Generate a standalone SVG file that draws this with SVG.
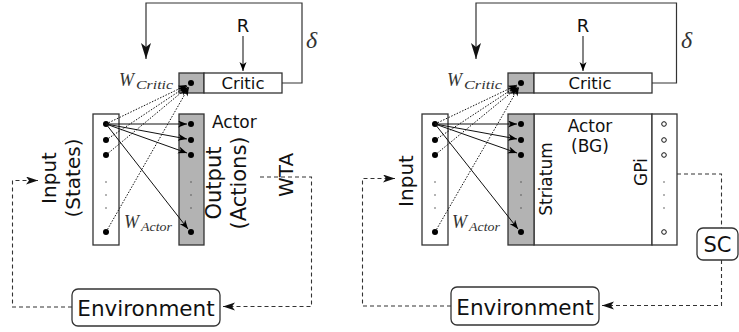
<svg xmlns="http://www.w3.org/2000/svg" width="739" height="332" viewBox="0 0 739 332">
<defs>
<style>
.box{fill:#fff;stroke:#333;stroke-width:1.3}
.gray{fill:#b3b3b3;stroke:#333;stroke-width:1.3}
.ln{fill:none;stroke:#333;stroke-width:1.2}
.sol{fill:none;stroke:#111;stroke-width:1}
.dot{fill:none;stroke:#111;stroke-width:1;stroke-dasharray:1.5,1.5}
.dash{fill:none;stroke:#333;stroke-width:1.1;stroke-dasharray:4,3}
.t{font-family:"DejaVu Sans",sans-serif;fill:#111}
.m{font-family:"Liberation Serif",serif;font-style:italic;fill:#333}
.nd{fill:#000}
.od{fill:#fff;stroke:#111;stroke-width:1}
.ed{fill:#555}
</style>
<marker id="a" markerUnits="userSpaceOnUse" markerWidth="10" markerHeight="8" refX="9" refY="3.5" orient="auto"><path d="M0,0 L9,3.5 L0,7 L2.5,3.5 z" fill="#000"/></marker>
<marker id="b" markerUnits="userSpaceOnUse" markerWidth="18" markerHeight="12" refX="16" refY="5" orient="auto"><path d="M0,0 L16,5 L0,10 L4,5 z" fill="#111"/></marker>
<marker id="c" markerUnits="userSpaceOnUse" markerWidth="14" markerHeight="10" refX="12" refY="4" orient="auto"><path d="M0,0 L12,4 L0,8 L3,4 z" fill="#111"/></marker>
</defs>

<g id="left-critic">
<rect class="gray" x="179" y="73" width="25" height="20"/>
<rect class="box" x="204" y="73" width="78" height="20"/>
<text class="t" x="243" y="88.5" font-size="16.5" text-anchor="middle">Critic</text>
<circle class="nd" cx="191" cy="83" r="3"/>
</g>
<g id="left-input">
<rect class="box" x="93" y="114" width="26" height="131"/>
<circle class="nd" cx="106" cy="124" r="3"/>
<circle class="nd" cx="106" cy="140" r="3"/>
<circle class="nd" cx="106" cy="155" r="3"/>
<circle class="nd" cx="106" cy="232" r="3"/>
<circle class="ed" cx="106" cy="182" r="0.8"/>
<circle class="ed" cx="106" cy="195" r="0.8"/>
<circle class="ed" cx="106" cy="208" r="0.8"/>
<text class="t" font-size="20" text-anchor="middle" transform="translate(56,178) rotate(-90)">Input</text>
<text class="t" font-size="20" text-anchor="middle" transform="translate(80,178) rotate(-90)">(States)</text>
</g>
<g id="left-output">
<rect class="gray" x="179" y="114" width="25" height="131"/>
<circle class="nd" cx="191" cy="124" r="3"/>
<circle class="nd" cx="191" cy="140" r="3"/>
<circle class="nd" cx="191" cy="155" r="3"/>
<circle class="nd" cx="191" cy="232" r="3"/>
<circle class="ed" cx="191" cy="182" r="0.8"/>
<circle class="ed" cx="191" cy="195" r="0.8"/>
<circle class="ed" cx="191" cy="208" r="0.8"/>
<text class="t" x="212" y="128" font-size="17">Actor</text>
<text class="t" font-size="21" text-anchor="middle" transform="translate(221,183) rotate(-90)">Output</text>
<text class="t" font-size="21" text-anchor="middle" transform="translate(246,183) rotate(-90)">(Actions)</text>
</g>
<g id="left-wta">
<text class="t" font-size="20" text-anchor="middle" transform="translate(293,175) rotate(-90)">WTA</text>
</g>
<g id="left-env">
<rect class="box" x="72" y="289" width="148" height="37" rx="6"/>
<text class="t" x="146" y="316" font-size="21.5" text-anchor="middle">Environment</text>
</g>
<g id="left-labels">
<text class="t" x="243" y="32" font-size="18" text-anchor="middle">R</text>
<text class="m" x="306" y="48" font-size="24">δ</text>
<text class="m" x="119" y="86" font-size="18">W</text>
<text class="m" x="136" y="89" font-size="12.5" textLength="37" lengthAdjust="spacingAndGlyphs">Critic</text>
<text class="m" x="124" y="228" font-size="18">W</text>
<text class="m" x="141" y="231" font-size="12.5" textLength="31" lengthAdjust="spacingAndGlyphs">Actor</text>
</g>

<g id="right-critic">
<rect class="gray" x="508" y="73" width="26" height="20"/>
<rect class="box" x="534" y="73" width="118" height="20"/>
<text class="t" x="590" y="88.5" font-size="16.5" text-anchor="middle">Critic</text>
<circle class="nd" cx="521" cy="83" r="3"/>
</g>
<g id="right-input">
<rect class="box" x="422" y="114" width="26" height="131"/>
<circle class="nd" cx="435" cy="124" r="3"/>
<circle class="nd" cx="435" cy="140" r="3"/>
<circle class="nd" cx="435" cy="155" r="3"/>
<circle class="nd" cx="435" cy="232" r="3"/>
<circle class="ed" cx="435" cy="182" r="0.8"/>
<circle class="ed" cx="435" cy="195" r="0.8"/>
<circle class="ed" cx="435" cy="208" r="0.8"/>
<text class="t" font-size="20" text-anchor="middle" transform="translate(413,181) rotate(-90)">Input</text>
</g>
<g id="right-actor">
<rect class="box" x="534" y="114" width="118" height="131"/>
<text class="t" x="590" y="132" font-size="17" text-anchor="middle">Actor</text>
<text class="t" x="590" y="152" font-size="17" text-anchor="middle">(BG)</text>
</g>
<g id="right-striatum">
<rect class="gray" x="508" y="114" width="26" height="131"/>
<circle class="nd" cx="521" cy="124" r="3"/>
<circle class="nd" cx="521" cy="140" r="3"/>
<circle class="nd" cx="521" cy="155" r="3"/>
<circle class="nd" cx="521" cy="232" r="3"/>
<circle class="ed" cx="521" cy="182" r="0.8"/>
<circle class="ed" cx="521" cy="195" r="0.8"/>
<circle class="ed" cx="521" cy="208" r="0.8"/>
<text class="t" font-size="17" text-anchor="middle" transform="translate(552,179) rotate(-90)">Striatum</text>
</g>
<g id="right-gpi">
<rect class="box" x="652" y="114" width="25" height="131"/>
<circle class="od" cx="664" cy="124" r="2.3"/>
<circle class="od" cx="664" cy="140" r="2.3"/>
<circle class="od" cx="664" cy="155" r="2.3"/>
<circle class="od" cx="664" cy="232" r="2.3"/>
<circle class="ed" cx="664" cy="182" r="0.8"/>
<circle class="ed" cx="664" cy="195" r="0.8"/>
<circle class="ed" cx="664" cy="208" r="0.8"/>
<text class="t" font-size="17" text-anchor="middle" transform="translate(647,172) rotate(-90)">GPi</text>
</g>
<g id="right-sc">
<rect class="box" x="697" y="228" width="41" height="32" rx="6"/>
<text class="t" x="717.5" y="252" font-size="21" text-anchor="middle">SC</text>
</g>
<g id="right-env">
<rect class="box" x="451" y="287" width="148" height="38" rx="6"/>
<text class="t" x="525" y="315" font-size="21.5" text-anchor="middle">Environment</text>
</g>
<g id="right-labels">
<text class="t" x="583" y="32" font-size="18" text-anchor="middle">R</text>
<text class="m" x="681" y="48" font-size="24">δ</text>
<text class="m" x="447" y="86" font-size="18">W</text>
<text class="m" x="464" y="89" font-size="12.5" textLength="38" lengthAdjust="spacingAndGlyphs">Critic</text>
<text class="m" x="452" y="228" font-size="18">W</text>
<text class="m" x="469" y="231" font-size="12.5" textLength="31" lengthAdjust="spacingAndGlyphs">Actor</text>
</g>

<g id="connectors">
<path class="ln" d="M282,83 H302 V3 H146 V59" marker-end="url(#b)"/>
<path class="ln" d="M243,36 V71" marker-end="url(#a)"/>
<path class="sol" d="M106,124 L187,124" marker-end="url(#a)"/>
<path class="sol" d="M106,124 L187,139" marker-end="url(#a)"/>
<path class="sol" d="M106,124 L187,153" marker-end="url(#a)"/>
<path class="sol" d="M106,124 L188,229" marker-end="url(#a)"/>
<path class="dot" d="M106,124 L187,85" marker-end="url(#a)"/>
<path class="dot" d="M106,140 L187,86" marker-end="url(#a)"/>
<path class="dot" d="M106,155 L188,87" marker-end="url(#a)"/>
<path class="dot" d="M106,232 L189,87" marker-end="url(#a)"/>
<path class="dash" d="M260,177 H311.5 V306.5 H223" marker-end="url(#c)"/>
<path class="dash" d="M72,307 H12.5 V180.5 H38" marker-end="url(#c)"/>
<path class="ln" d="M652,83 H676.5 V3 H476 V59" marker-end="url(#b)"/>
<path class="ln" d="M583,36 V71" marker-end="url(#a)"/>
<path class="sol" d="M435,124 L517,124" marker-end="url(#a)"/>
<path class="sol" d="M435,124 L517,139" marker-end="url(#a)"/>
<path class="sol" d="M435,124 L517,153" marker-end="url(#a)"/>
<path class="sol" d="M435,124 L518,229" marker-end="url(#a)"/>
<path class="dot" d="M435,124 L517,85" marker-end="url(#a)"/>
<path class="dot" d="M435,140 L517,86" marker-end="url(#a)"/>
<path class="dot" d="M435,155 L518,87" marker-end="url(#a)"/>
<path class="dot" d="M435,232 L519,87" marker-end="url(#a)"/>
<path class="dash" d="M677,174 H721.5 V228"/>
<path class="dash" d="M721.5,260 V305.5 H602" marker-end="url(#c)"/>
<path class="dash" d="M451,306 H362.5 V178.5 H395" marker-end="url(#c)"/>
</g>
</svg>
